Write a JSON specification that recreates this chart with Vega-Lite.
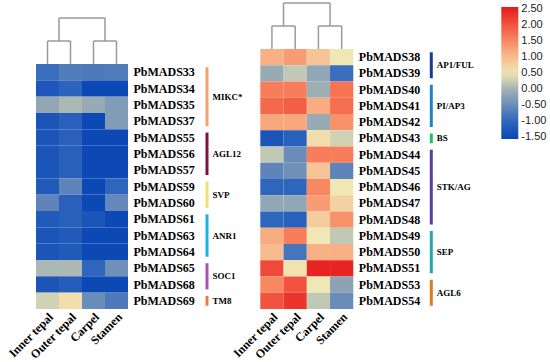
{
  "$schema": "https://vega.github.io/schema/vega-lite/v6.json",
  "padding": {"left": 5, "top": 2, "right": 6, "bottom": 0},
  "background": "white",
  "config": {"view": {"stroke": null}},
  "datasets": {
    "dendro": [
      {"x": 0.5, "x2": 0.5, "y": 0, "y2": 1},
      {"x": 1.5, "x2": 1.5, "y": 0, "y2": 1},
      {"x": 0.5, "x2": 1.5, "y": 1, "y2": 1},
      {"x": 2.5, "x2": 2.5, "y": 0, "y2": 1},
      {"x": 3.5, "x2": 3.5, "y": 0, "y2": 1},
      {"x": 2.5, "x2": 3.5, "y": 1, "y2": 1},
      {"x": 1.0, "x2": 1.0, "y": 1, "y2": 2},
      {"x": 3.0, "x2": 3.0, "y": 1, "y2": 2},
      {"x": 1.0, "x2": 3.0, "y": 2, "y2": 2}
    ],
    "leftHeat": [
      {"gene": "PbMADS33", "tissue": "Inner tepal", "value": -0.9},
      {"gene": "PbMADS33", "tissue": "Outer tepal", "value": -0.7},
      {"gene": "PbMADS33", "tissue": "Carpel", "value": -0.75},
      {"gene": "PbMADS33", "tissue": "Stamen", "value": -0.7},
      {"gene": "PbMADS34", "tissue": "Inner tepal", "value": -1.25},
      {"gene": "PbMADS34", "tissue": "Outer tepal", "value": -1.05},
      {"gene": "PbMADS34", "tissue": "Carpel", "value": -1.5},
      {"gene": "PbMADS34", "tissue": "Stamen", "value": -1.5},
      {"gene": "PbMADS35", "tissue": "Inner tepal", "value": -0.15},
      {"gene": "PbMADS35", "tissue": "Outer tepal", "value": 0.05},
      {"gene": "PbMADS35", "tissue": "Carpel", "value": -0.1},
      {"gene": "PbMADS35", "tissue": "Stamen", "value": -0.3},
      {"gene": "PbMADS37", "tissue": "Inner tepal", "value": -1.3},
      {"gene": "PbMADS37", "tissue": "Outer tepal", "value": -1.1},
      {"gene": "PbMADS37", "tissue": "Carpel", "value": -1.5},
      {"gene": "PbMADS37", "tissue": "Stamen", "value": -0.3},
      {"gene": "PbMADS55", "tissue": "Inner tepal", "value": -1.3},
      {"gene": "PbMADS55", "tissue": "Outer tepal", "value": -1.1},
      {"gene": "PbMADS55", "tissue": "Carpel", "value": -1.5},
      {"gene": "PbMADS55", "tissue": "Stamen", "value": -1.5},
      {"gene": "PbMADS56", "tissue": "Inner tepal", "value": -1.3},
      {"gene": "PbMADS56", "tissue": "Outer tepal", "value": -1.1},
      {"gene": "PbMADS56", "tissue": "Carpel", "value": -1.5},
      {"gene": "PbMADS56", "tissue": "Stamen", "value": -1.5},
      {"gene": "PbMADS57", "tissue": "Inner tepal", "value": -1.3},
      {"gene": "PbMADS57", "tissue": "Outer tepal", "value": -1.1},
      {"gene": "PbMADS57", "tissue": "Carpel", "value": -1.5},
      {"gene": "PbMADS57", "tissue": "Stamen", "value": -1.5},
      {"gene": "PbMADS59", "tissue": "Inner tepal", "value": -1.2},
      {"gene": "PbMADS59", "tissue": "Outer tepal", "value": -0.6},
      {"gene": "PbMADS59", "tissue": "Carpel", "value": -1.5},
      {"gene": "PbMADS59", "tissue": "Stamen", "value": -1.0},
      {"gene": "PbMADS60", "tissue": "Inner tepal", "value": -0.6},
      {"gene": "PbMADS60", "tissue": "Outer tepal", "value": -1.1},
      {"gene": "PbMADS60", "tissue": "Carpel", "value": -1.5},
      {"gene": "PbMADS60", "tissue": "Stamen", "value": -0.55},
      {"gene": "PbMADS61", "tissue": "Inner tepal", "value": -1.2},
      {"gene": "PbMADS61", "tissue": "Outer tepal", "value": -1.1},
      {"gene": "PbMADS61", "tissue": "Carpel", "value": -1.3},
      {"gene": "PbMADS61", "tissue": "Stamen", "value": -1.5},
      {"gene": "PbMADS63", "tissue": "Inner tepal", "value": -1.3},
      {"gene": "PbMADS63", "tissue": "Outer tepal", "value": -1.2},
      {"gene": "PbMADS63", "tissue": "Carpel", "value": -1.5},
      {"gene": "PbMADS63", "tissue": "Stamen", "value": -1.5},
      {"gene": "PbMADS64", "tissue": "Inner tepal", "value": -1.3},
      {"gene": "PbMADS64", "tissue": "Outer tepal", "value": -1.2},
      {"gene": "PbMADS64", "tissue": "Carpel", "value": -1.5},
      {"gene": "PbMADS64", "tissue": "Stamen", "value": -1.5},
      {"gene": "PbMADS65", "tissue": "Inner tepal", "value": 0.05},
      {"gene": "PbMADS65", "tissue": "Outer tepal", "value": 0.05},
      {"gene": "PbMADS65", "tissue": "Carpel", "value": -1.0},
      {"gene": "PbMADS65", "tissue": "Stamen", "value": -0.45},
      {"gene": "PbMADS68", "tissue": "Inner tepal", "value": -1.3},
      {"gene": "PbMADS68", "tissue": "Outer tepal", "value": -1.15},
      {"gene": "PbMADS68", "tissue": "Carpel", "value": -1.5},
      {"gene": "PbMADS68", "tissue": "Stamen", "value": -1.5},
      {"gene": "PbMADS69", "tissue": "Inner tepal", "value": 0.3},
      {"gene": "PbMADS69", "tissue": "Outer tepal", "value": 0.6},
      {"gene": "PbMADS69", "tissue": "Carpel", "value": -0.5},
      {"gene": "PbMADS69", "tissue": "Stamen", "value": -0.75}
    ],
    "rightHeat": [
      {"gene": "PbMADS38", "tissue": "Inner tepal", "value": 1.1},
      {"gene": "PbMADS38", "tissue": "Outer tepal", "value": 1.3},
      {"gene": "PbMADS38", "tissue": "Carpel", "value": 0.9},
      {"gene": "PbMADS38", "tissue": "Stamen", "value": 0.5},
      {"gene": "PbMADS39", "tissue": "Inner tepal", "value": -0.1},
      {"gene": "PbMADS39", "tissue": "Outer tepal", "value": 0.2},
      {"gene": "PbMADS39", "tissue": "Carpel", "value": -0.15},
      {"gene": "PbMADS39", "tissue": "Stamen", "value": -0.9},
      {"gene": "PbMADS40", "tissue": "Inner tepal", "value": 1.6},
      {"gene": "PbMADS40", "tissue": "Outer tepal", "value": 1.6},
      {"gene": "PbMADS40", "tissue": "Carpel", "value": -0.05},
      {"gene": "PbMADS40", "tissue": "Stamen", "value": 1.7},
      {"gene": "PbMADS41", "tissue": "Inner tepal", "value": 1.8},
      {"gene": "PbMADS41", "tissue": "Outer tepal", "value": 1.9},
      {"gene": "PbMADS41", "tissue": "Carpel", "value": 1.15},
      {"gene": "PbMADS41", "tissue": "Stamen", "value": 1.75},
      {"gene": "PbMADS42", "tissue": "Inner tepal", "value": 1.2},
      {"gene": "PbMADS42", "tissue": "Outer tepal", "value": 1.2},
      {"gene": "PbMADS42", "tissue": "Carpel", "value": -0.1},
      {"gene": "PbMADS42", "tissue": "Stamen", "value": 1.4},
      {"gene": "PbMADS43", "tissue": "Inner tepal", "value": -1.3},
      {"gene": "PbMADS43", "tissue": "Outer tepal", "value": -1.1},
      {"gene": "PbMADS43", "tissue": "Carpel", "value": 0.6},
      {"gene": "PbMADS43", "tissue": "Stamen", "value": 0.3},
      {"gene": "PbMADS44", "tissue": "Inner tepal", "value": 0.2},
      {"gene": "PbMADS44", "tissue": "Outer tepal", "value": -0.5},
      {"gene": "PbMADS44", "tissue": "Carpel", "value": 1.6},
      {"gene": "PbMADS44", "tissue": "Stamen", "value": 1.6},
      {"gene": "PbMADS45", "tissue": "Inner tepal", "value": -0.6},
      {"gene": "PbMADS45", "tissue": "Outer tepal", "value": -0.45},
      {"gene": "PbMADS45", "tissue": "Carpel", "value": 0.9},
      {"gene": "PbMADS45", "tissue": "Stamen", "value": -0.6},
      {"gene": "PbMADS46", "tissue": "Inner tepal", "value": -1.0},
      {"gene": "PbMADS46", "tissue": "Outer tepal", "value": -1.0},
      {"gene": "PbMADS46", "tissue": "Carpel", "value": 1.5},
      {"gene": "PbMADS46", "tissue": "Stamen", "value": 0.5},
      {"gene": "PbMADS47", "tissue": "Inner tepal", "value": -0.15},
      {"gene": "PbMADS47", "tissue": "Outer tepal", "value": -0.15},
      {"gene": "PbMADS47", "tissue": "Carpel", "value": 1.3},
      {"gene": "PbMADS47", "tissue": "Stamen", "value": 0.75},
      {"gene": "PbMADS48", "tissue": "Inner tepal", "value": -1.0},
      {"gene": "PbMADS48", "tissue": "Outer tepal", "value": -1.1},
      {"gene": "PbMADS48", "tissue": "Carpel", "value": 0.8},
      {"gene": "PbMADS48", "tissue": "Stamen", "value": 1.4},
      {"gene": "PbMADS49", "tissue": "Inner tepal", "value": 1.15},
      {"gene": "PbMADS49", "tissue": "Outer tepal", "value": 1.6},
      {"gene": "PbMADS49", "tissue": "Carpel", "value": 0.5},
      {"gene": "PbMADS49", "tissue": "Stamen", "value": 0.2},
      {"gene": "PbMADS50", "tissue": "Inner tepal", "value": 1.0},
      {"gene": "PbMADS50", "tissue": "Outer tepal", "value": -0.8},
      {"gene": "PbMADS50", "tissue": "Carpel", "value": 1.1},
      {"gene": "PbMADS50", "tissue": "Stamen", "value": 1.1},
      {"gene": "PbMADS51", "tissue": "Inner tepal", "value": 2.1},
      {"gene": "PbMADS51", "tissue": "Outer tepal", "value": 0.55},
      {"gene": "PbMADS51", "tissue": "Carpel", "value": 2.45},
      {"gene": "PbMADS51", "tissue": "Stamen", "value": 2.45},
      {"gene": "PbMADS53", "tissue": "Inner tepal", "value": 1.5},
      {"gene": "PbMADS53", "tissue": "Outer tepal", "value": 2.0},
      {"gene": "PbMADS53", "tissue": "Carpel", "value": 0.5},
      {"gene": "PbMADS53", "tissue": "Stamen", "value": -0.2},
      {"gene": "PbMADS54", "tissue": "Inner tepal", "value": 2.0},
      {"gene": "PbMADS54", "tissue": "Outer tepal", "value": 2.3},
      {"gene": "PbMADS54", "tissue": "Carpel", "value": 0.2},
      {"gene": "PbMADS54", "tissue": "Stamen", "value": -0.5}
    ],
    "leftGroups": [
      {"group": "MIKC*", "first": "PbMADS33", "last": "PbMADS37", "mid": "PbMADS34", "n": 4},
      {"group": "AGL12", "first": "PbMADS55", "last": "PbMADS57", "mid": "PbMADS56", "n": 3},
      {"group": "SVP", "first": "PbMADS59", "last": "PbMADS60", "mid": "PbMADS59", "n": 2},
      {"group": "ANR1", "first": "PbMADS61", "last": "PbMADS64", "mid": "PbMADS63", "n": 3},
      {"group": "SOC1", "first": "PbMADS65", "last": "PbMADS68", "mid": "PbMADS65", "n": 2},
      {"group": "TM8", "first": "PbMADS69", "last": "PbMADS69", "mid": "PbMADS69", "n": 1}
    ],
    "rightGroups": [
      {"group": "AP1/FUL", "first": "PbMADS38", "last": "PbMADS39", "mid": "PbMADS38", "n": 2},
      {"group": "PI/AP3", "first": "PbMADS40", "last": "PbMADS42", "mid": "PbMADS41", "n": 3},
      {"group": "BS", "first": "PbMADS43", "last": "PbMADS43", "mid": "PbMADS43", "n": 1},
      {"group": "STK/AG", "first": "PbMADS44", "last": "PbMADS48", "mid": "PbMADS46", "n": 5},
      {"group": "SEP", "first": "PbMADS49", "last": "PbMADS51", "mid": "PbMADS50", "n": 3},
      {"group": "AGL6", "first": "PbMADS53", "last": "PbMADS54", "mid": "PbMADS53", "n": 2}
    ]
  },
  "bounds": "flush",
  "spacing": 132.3,
  "resolve": {"scale": {"color": "independent", "stroke": "independent", "x": "independent", "y": "independent"}, "legend": {"color": "independent", "stroke": "independent"}},
  "hconcat": [
    {
      "width": 92, "height": 260,
      "resolve": {"scale": {"x": "independent", "y": "independent"}},
      "layer": [
        {
          "layer": [
            {
              "data": {"name": "leftHeat"},
              "mark": {"type": "rect"},
              "encoding": {
                "x": {"field": "tissue", "type": "nominal", "scale": {"domain": ["Inner tepal", "Outer tepal", "Carpel", "Stamen"], "paddingInner": 0, "paddingOuter": 0},
                  "axis": {"orient": "bottom", "title": null, "labelAngle": -45, "ticks": false, "domain": false, "labelPadding": 2, "labelFont": "Liberation Serif", "labelFontWeight": "bold", "labelFontSize": 12, "labelColor": "#000"}},
                "y": {"field": "gene", "type": "nominal", "scale": {"domain": ["PbMADS33","PbMADS34","PbMADS35","PbMADS37","PbMADS55","PbMADS56","PbMADS57","PbMADS59","PbMADS60","PbMADS61","PbMADS63","PbMADS64","PbMADS65","PbMADS68","PbMADS69"], "range": [15, 260], "paddingInner": 0, "paddingOuter": 0},
                  "axis": {"orient": "right", "title": null, "ticks": false, "domain": false, "labelPadding": 5, "labelFont": "Liberation Serif", "labelFontWeight": "bold", "labelFontSize": 12, "labelColor": "#000"}},
                "color": {"field": "value", "type": "quantitative",
                  "scale": {"domain": [-1.55, -1, -0.5, 0, 0.5, 1, 1.5, 2, 2.55], "range": ["#0a46b4", "#2f66bd", "#6a8cb9", "#a3b3b3", "#efe7b4", "#f8bb8e", "#f88862", "#f2533f", "#e41a1c"], "interpolate": "rgb"},
                  "legend": null}
              }
            },
            {
              "data": {"name": "leftGroups"},
              "mark": {"type": "rule", "strokeWidth": 3},
              "encoding": {
                "x": {"value": 171},
                "y": {"field": "first", "type": "nominal", "bandPosition": 0.2},
                "y2": {"field": "last", "bandPosition": 0.8},
                "stroke": {"field": "group", "type": "nominal", "scale": {"domain": ["MIKC*", "AGL12", "SVP", "ANR1", "SOC1", "TM8"], "range": ["#f6a06c", "#7a1044", "#efe16e", "#1db1e6", "#a454b4", "#f27a40"]}, "legend": null}
              }
            },
            {
              "data": {"name": "leftGroups"},
              "transform": [{"filter": "datum.n % 2 == 1"}],
              "mark": {"type": "text", "align": "left", "baseline": "middle", "font": "Liberation Serif", "fontWeight": "bold", "fontSize": 9, "color": "#000"},
              "encoding": {
                "x": {"value": 176.5},
                "y": {"field": "mid", "type": "nominal", "bandPosition": 0.5},
                "text": {"field": "group"}
              }
            },
            {
              "data": {"name": "leftGroups"},
              "transform": [{"filter": "datum.n % 2 == 0"}],
              "mark": {"type": "text", "align": "left", "baseline": "middle", "font": "Liberation Serif", "fontWeight": "bold", "fontSize": 9, "color": "#000"},
              "encoding": {
                "x": {"value": 176.5},
                "y": {"field": "mid", "type": "nominal", "bandPosition": 1},
                "text": {"field": "group"}
              }
            }
          ]
        },
        {
          "data": {"name": "dendro"},
          "mark": {"type": "rule", "color": "#9a9a9a", "strokeWidth": 1.5},
          "encoding": {
            "x": {"field": "x", "type": "quantitative", "scale": {"domain": [0, 4], "nice": false, "zero": false}, "axis": null},
            "x2": {"field": "x2"},
            "y": {"field": "y", "type": "quantitative", "scale": {"domain": [0, 2], "range": [15, -31], "nice": false, "zero": false}, "axis": null},
            "y2": {"field": "y2"}
          }
        }
      ]
    },
    {
      "width": 93, "height": 260,
      "resolve": {"scale": {"x": "independent", "y": "independent"}},
      "layer": [
        {
          "layer": [
            {
              "data": {"name": "rightHeat"},
              "mark": {"type": "rect"},
              "encoding": {
                "x": {"field": "tissue", "type": "nominal", "scale": {"domain": ["Inner tepal", "Outer tepal", "Carpel", "Stamen"], "paddingInner": 0, "paddingOuter": 0},
                  "axis": {"orient": "bottom", "title": null, "labelAngle": -45, "ticks": false, "domain": false, "labelPadding": 2, "labelFont": "Liberation Serif", "labelFontWeight": "bold", "labelFontSize": 12, "labelColor": "#000"}},
                "y": {"field": "gene", "type": "nominal", "scale": {"domain": ["PbMADS38","PbMADS39","PbMADS40","PbMADS41","PbMADS42","PbMADS43","PbMADS44","PbMADS45","PbMADS46","PbMADS47","PbMADS48","PbMADS49","PbMADS50","PbMADS51","PbMADS53","PbMADS54"], "paddingInner": 0, "paddingOuter": 0},
                  "axis": {"orient": "right", "title": null, "ticks": false, "domain": false, "labelPadding": 5, "labelFont": "Liberation Serif", "labelFontWeight": "bold", "labelFontSize": 12, "labelColor": "#000"}},
                "color": {"field": "value", "type": "quantitative",
                  "scale": {"domain": [-1.55, -1, -0.5, 0, 0.5, 1, 1.5, 2, 2.55], "range": ["#0a46b4", "#2f66bd", "#6a8cb9", "#a3b3b3", "#efe7b4", "#f8bb8e", "#f88862", "#f2533f", "#e41a1c"], "interpolate": "rgb"},
                  "legend": {"orient": "none", "legendX": 241, "legendY": -42, "direction": "vertical", "title": null, "gradientLength": 132, "gradientThickness": 17, "gradientStrokeWidth": 0, "values": [-1.5, -1, -0.5, 0, 0.5, 1, 1.5, 2, 2.5], "labelExpr": "replace(format(datum.value, '.2f'), '\u2212', '-')", "labelFont": "Liberation Sans", "labelFontSize": 11, "labelColor": "#222", "labelOffset": 3, "labelBaseline": "middle", "labelOverlap": false, "padding": 0}}
              }
            },
            {
              "data": {"name": "rightGroups"},
              "mark": {"type": "rule", "strokeWidth": 3},
              "encoding": {
                "x": {"value": 171},
                "y": {"field": "first", "type": "nominal", "bandPosition": 0.2},
                "y2": {"field": "last", "bandPosition": 0.8},
                "stroke": {"field": "group", "type": "nominal", "scale": {"domain": ["AP1/FUL", "PI/AP3", "BS", "STK/AG", "SEP", "AGL6"], "range": ["#1b3c8e", "#2183c2", "#22c063", "#5b3da2", "#21a8a6", "#e07a22"]}, "legend": null}
              }
            },
            {
              "data": {"name": "rightGroups"},
              "transform": [{"filter": "datum.n % 2 == 1"}],
              "mark": {"type": "text", "align": "left", "baseline": "middle", "font": "Liberation Serif", "fontWeight": "bold", "fontSize": 9, "color": "#000"},
              "encoding": {
                "x": {"value": 176.5},
                "y": {"field": "mid", "type": "nominal", "bandPosition": 0.5},
                "text": {"field": "group"}
              }
            },
            {
              "data": {"name": "rightGroups"},
              "transform": [{"filter": "datum.n % 2 == 0"}],
              "mark": {"type": "text", "align": "left", "baseline": "middle", "font": "Liberation Serif", "fontWeight": "bold", "fontSize": 9, "color": "#000"},
              "encoding": {
                "x": {"value": 176.5},
                "y": {"field": "mid", "type": "nominal", "bandPosition": 1},
                "text": {"field": "group"}
              }
            }
          ]
        },
        {
          "data": {"name": "dendro"},
          "mark": {"type": "rule", "color": "#9a9a9a", "strokeWidth": 1.5},
          "encoding": {
            "x": {"field": "x", "type": "quantitative", "scale": {"domain": [0, 4], "nice": false, "zero": false}, "axis": null},
            "x2": {"field": "x2"},
            "y": {"field": "y", "type": "quantitative", "scale": {"domain": [0, 2], "range": [0, -46], "nice": false, "zero": false}, "axis": null},
            "y2": {"field": "y2"}
          }
        }
      ]
    }
  ]
}
